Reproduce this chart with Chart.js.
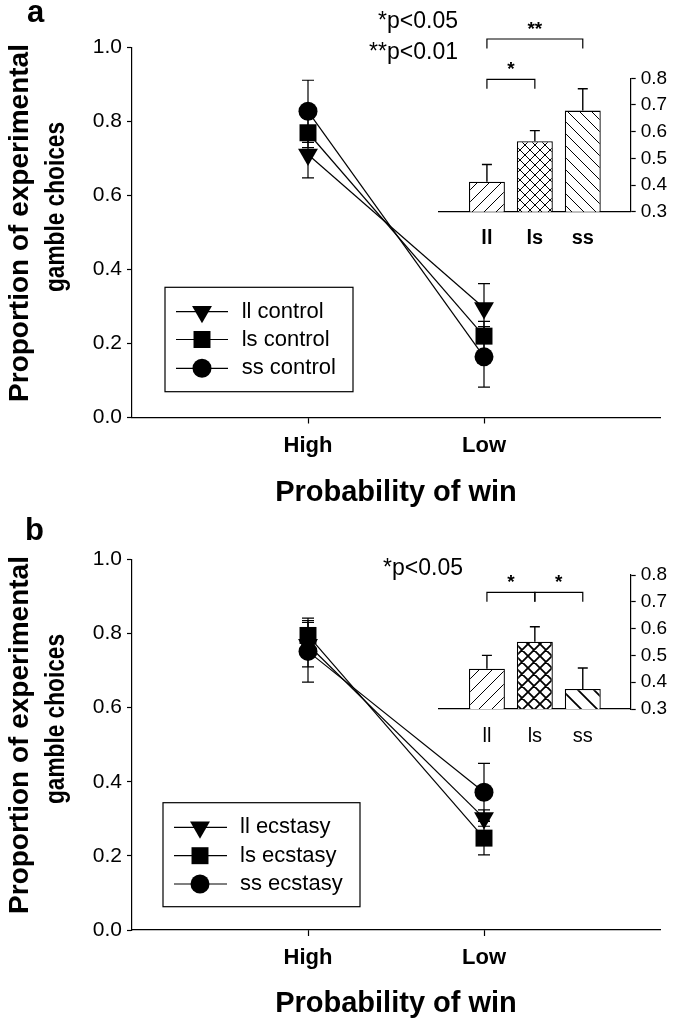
<!DOCTYPE html>
<html><head><meta charset="utf-8">
<script src="https://cdn.jsdelivr.net/npm/chart.js@4/dist/chart.umd.min.js"></script>
<style>
html,body{margin:0;padding:0;background:#fff;}
#wrap{position:relative;width:674px;height:1024px;overflow:hidden;background:#fff;}
canvas{position:absolute;left:0;}
</style></head><body>
<div id="wrap">
<canvas id="mainA" width="674" height="512" style="top:0"></canvas>
<canvas id="insetA" width="674" height="512" style="top:0"></canvas>
<canvas id="mainB" width="674" height="512" style="top:512px"></canvas>
<canvas id="insetB" width="674" height="512" style="top:512px"></canvas>
</div>
<script>
// ---------- DATA ----------
const probCategories = ['High', 'Low'];
const genotypes = ['ll', 'ls', 'ss'];
const yTitleLines = ['Proportion of experimental', 'gamble choices'];
const xTitle = 'Probability of win';
const panelLetters = ['a', 'b'];

const controlLabels = ['ll control', 'ls control', 'ss control'];
const llControl = [0.711, 0.296];
const llControlErr = [0.063, 0.066];
const lsControl = [0.770, 0.220];
const lsControlErr = [0.040, 0.040];
const ssControl = [0.828, 0.164];
const ssControlErr = [0.084, 0.082];

const ecstasyLabels = ['ll ecstasy', 'ls ecstasy', 'ss ecstasy'];
const llEcstasy = [0.770, 0.302];
const llEcstasyErr = [0.060, 0.022];
const lsEcstasy = [0.795, 0.248];
const lsEcstasyErr = [0.047, 0.045];
const ssEcstasy = [0.752, 0.372];
const ssEcstasyErr = [0.083, 0.078];

const controlGenotypeMeans = [0.412, 0.564, 0.679];
const controlGenotypeErr = [0.065, 0.040, 0.082];
const ecstasyGenotypeMeans = [0.450, 0.551, 0.375];
const ecstasyGenotypeErr = [0.050, 0.056, 0.078];

const controlSignificance = [['ll', 'ls', '*'], ['ll', 'ss', '**']];
const ecstasySignificance = [['ll', 'ls', '*'], ['ls', 'ss', '*']];
const controlPNotes = ['*p<0.05', '**p<0.01'];
const ecstasyPNotes = ['*p<0.05'];

// ---------- HELPERS ----------
const FONT = "'Liberation Sans', Arial, Helvetica, sans-serif";
const pad = a => [null, ...a, null];

function drawMarker(ctx, style, r, rot, x, y) {
  ctx.fillStyle = '#000'; ctx.strokeStyle = '#000';
  if (Chart.helpers && Chart.helpers.drawPoint) {
    Chart.helpers.drawPoint(ctx, {pointStyle: style, radius: r, rotation: rot, borderWidth: 0}, x, y);
    return;
  }
  ctx.beginPath();
  if (style === 'circle') ctx.arc(x, y, r, 0, Math.PI * 2);
  else if (style === 'rect') { const s = r * Math.SQRT1_2; ctx.rect(x - s, y - s, 2 * s, 2 * s); }
  else { const h = r; ctx.moveTo(x, y + h); ctx.lineTo(x - h * 0.866, y - h / 2); ctx.lineTo(x + h * 0.866, y - h / 2); ctx.closePath(); }
  ctx.fill();
}

function errorPlugin(capHalf, upOnly) {
  return {
    id: 'errbars',
    beforeDatasetsDraw(chart) {
      if (upOnly) return;
      const ctx = chart.ctx, ys = chart.scales.y;
      ctx.save(); ctx.strokeStyle = '#000'; ctx.lineWidth = 1.2;
      chart.data.datasets.forEach((ds, di) => {
        const meta = chart.getDatasetMeta(di);
        (ds.errorBars || []).forEach((e, i) => {
          const v = ds.data[i];
          if (e == null || v == null) return;
          const x = meta.data[i].x;
          const top = ys.getPixelForValue(v + e);
          const bot = ys.getPixelForValue(v - e);
          ctx.beginPath();
          ctx.moveTo(x, top); ctx.lineTo(x, bot);
          ctx.moveTo(x - capHalf, top); ctx.lineTo(x + capHalf, top);
          ctx.moveTo(x - capHalf, bot); ctx.lineTo(x + capHalf, bot);
          ctx.stroke();
        });
      });
      ctx.restore();
    },
    afterDatasetsDraw(chart) {
      if (!upOnly) return;
      const ctx = chart.ctx, ys = chart.scales.y;
      ctx.save(); ctx.strokeStyle = '#000'; ctx.lineWidth = 1.4;
      chart.data.datasets.forEach((ds, di) => {
        const meta = chart.getDatasetMeta(di);
        (ds.errorBars || []).forEach((e, i) => {
          const v = ds.data[i];
          if (e == null || v == null) return;
          const x = meta.data[i].x;
          const top = ys.getPixelForValue(v + e);
          ctx.beginPath();
          ctx.moveTo(x, top); ctx.lineTo(x, meta.data[i].y);
          ctx.moveTo(x - capHalf, top); ctx.lineTo(x + capHalf, top);
          ctx.stroke();
        });
      });
      ctx.restore();
    }
  };
}

function legendPlugin(cfg) {
  return {
    id: 'legendBox',
    afterDraw(chart) {
      const ctx = chart.ctx;
      ctx.save();
      ctx.strokeStyle = '#000'; ctx.lineWidth = 1.2;
      ctx.strokeRect(cfg.box[0], cfg.box[1], cfg.box[2] - cfg.box[0], cfg.box[3] - cfg.box[1]);
      chart.data.datasets.forEach((ds, i) => {
        const y = cfg.rows[i];
        ctx.strokeStyle = '#000'; ctx.lineWidth = 1.2;
        ctx.beginPath(); ctx.moveTo(cfg.lineX[0], y); ctx.lineTo(cfg.lineX[1], y); ctx.stroke();
        drawMarker(ctx, ds.pointStyle, ds.pointRadius, ds.pointRotation, cfg.markerX, y);
        ctx.fillStyle = '#000'; ctx.font = cfg.font;
        ctx.textAlign = 'left'; ctx.textBaseline = 'middle';
        ctx.fillText(ds.label, cfg.textX, y);
      });
      ctx.restore();
    }
  };
}

function textPlugin(items) {
  return {
    id: 'texts',
    afterDraw(chart) {
      const ctx = chart.ctx;
      items.forEach(t => {
        ctx.save();
        ctx.fillStyle = '#000';
        ctx.font = t.font;
        ctx.textAlign = t.align || 'left';
        ctx.textBaseline = t.baseline || 'alphabetic';
        ctx.translate(t.x, t.y);
        if (t.rot) ctx.rotate(t.rot);
        if (t.sx) ctx.scale(t.sx, 1);
        ctx.fillText(t.text, 0, 0);
        ctx.restore();
      });
    }
  };
}

function bracketPlugin(sig, levelsY, starFont) {
  return {
    id: 'brackets',
    afterDraw(chart) {
      const ctx = chart.ctx, xs = chart.scales.x;
      const labels = chart.data.labels;
      ctx.save();
      ctx.strokeStyle = '#000'; ctx.lineWidth = 1.2; ctx.fillStyle = '#000';
      sig.forEach((s, k) => {
        const x1 = xs.getPixelForValue(labels.indexOf(s[0]));
        const x2 = xs.getPixelForValue(labels.indexOf(s[1]));
        const y = levelsY[k];
        ctx.beginPath();
        ctx.moveTo(x1, y + 9.4); ctx.lineTo(x1, y); ctx.lineTo(x2, y); ctx.lineTo(x2, y + 9.4);
        ctx.stroke();
        ctx.font = starFont; ctx.textAlign = 'center'; ctx.textBaseline = 'alphabetic';
        ctx.fillText(s[2], (x1 + x2) / 2, y - 4.5);
      });
      ctx.restore();
    }
  };
}

function hatch(kind, s, lw) {
  const c = document.createElement('canvas');
  c.width = s; c.height = s;
  const g = c.getContext('2d');
  g.fillStyle = '#fff'; g.fillRect(0, 0, s, s);
  g.strokeStyle = '#000'; g.lineWidth = lw;
  g.beginPath();
  if (kind === 'fwd' || kind === 'cross') {
    g.moveTo(-2, s + 2); g.lineTo(s + 2, -2);
    g.moveTo(-2, 2); g.lineTo(2, -2);
    g.moveTo(s - 2, s + 2); g.lineTo(s + 2, s - 2);
  }
  if (kind === 'back' || kind === 'cross') {
    g.moveTo(-2, -2); g.lineTo(s + 2, s + 2);
    g.moveTo(-2, s - 2); g.lineTo(2, s + 2);
    g.moveTo(s - 2, -2); g.lineTo(s + 2, 2);
  }
  g.stroke();
  return g.createPattern(c, 'repeat');
}

// ---------- MAIN CHART ----------
function mainChart(id, series, o) {
  const labels = ['', ...probCategories, ''];
  const cfg = {
    type: 'line',
    data: {
      labels,
      datasets: series.map(s => ({
        label: s.label, data: pad(s.values), errorBars: pad(s.err),
        borderColor: '#000', borderWidth: 1.2, backgroundColor: '#000',
        pointStyle: s.style, pointRadius: s.r, pointHoverRadius: s.r, pointRotation: s.rot,
        pointBackgroundColor: '#000', pointBorderColor: '#000', pointBorderWidth: 0,
        fill: false, tension: 0, spanGaps: false, clip: false
      }))
    },
    options: {
      responsive: false, animation: false, devicePixelRatio: 1, events: [],
      layout: {padding: {left: 0, right: 14, top: o.top, bottom: 0}},
      plugins: {legend: {display: false}, tooltip: {enabled: false}},
      scales: {
        x: {
          type: 'category', offset: false,
          grid: {display: true, drawOnChartArea: false, drawTicks: true, tickLength: 6, tickWidth: 1.2,
                 tickColor: c => (c.index === 1 || c.index === 2) ? '#000' : 'rgba(0,0,0,0)'},
          border: {display: true, color: '#000', width: 1.2},
          ticks: {color: '#000', font: {family: FONT, size: 22, weight: 'bold'}, padding: 9, autoSkip: false, maxRotation: 0},
          afterFit: s => { s.height = o.xh; }
        },
        y: {
          min: 0, max: 1,
          grid: {display: true, drawOnChartArea: false, tickLength: 5, tickWidth: 1.2, tickColor: '#000'},
          border: {display: true, color: '#000', width: 1.2},
          ticks: {stepSize: 0.2, color: '#000', font: {family: FONT, size: 21}, padding: 5, callback: v => Number(v).toFixed(1)},
          afterFit: s => { s.width = 132; }
        }
      }
    },
    plugins: [
      errorPlugin(6, false),
      legendPlugin(o.legend),
      textPlugin([
        {text: o.letter, x: o.letterX, y: o.letterY, font: `bold 31px ${FONT}`},
        {text: yTitleLines[0], x: 20, y: o.yt1, font: `bold 28px ${FONT}`, align: 'center', baseline: 'middle', rot: -Math.PI / 2},
        {text: yTitleLines[1], x: 57, y: o.yt2, font: `bold 27px ${FONT}`, align: 'center', baseline: 'middle', rot: -Math.PI / 2, sx: 0.84},
        {text: xTitle, x: 396, y: o.xtY, font: `bold 29px ${FONT}`, align: 'center'}
      ])
    ]
  };
  return new Chart(document.getElementById(id), cfg);
}

// ---------- INSET CHART ----------
function insetChart(id, means, errs, o) {
  const labels = ['', ...genotypes, ''];
  const cfg = {
    type: 'bar',
    data: {
      labels,
      datasets: [{
        data: pad(means), errorBars: pad(errs),
        backgroundColor: ['rgba(0,0,0,0)', ...o.patterns, 'rgba(0,0,0,0)'],
        borderColor: '#000', borderWidth: 1.3, borderSkipped: 'start',
        categoryPercentage: 1, barPercentage: 0.75
      }]
    },
    options: {
      responsive: false, animation: false, devicePixelRatio: 1, events: [],
      layout: {padding: {left: 439, right: 0, top: o.top, bottom: 512 - o.bottom - 40}},
      plugins: {legend: {display: false}, tooltip: {enabled: false}},
      scales: {
        x: {
          type: 'category', offset: false,
          grid: {display: false, offset: false, drawTicks: false},
          border: {display: true, color: '#000', width: 1.2},
          ticks: {color: '#000', font: {family: FONT, size: 20, weight: o.labelWeight}, padding: 15, autoSkip: false, maxRotation: 0},
          afterFit: s => { s.height = 40; }
        },
        y: {
          position: 'right', min: 0.3, max: 0.8,
          grid: {display: true, drawOnChartArea: false, tickLength: 5, tickWidth: 1.2, tickColor: '#000'},
          border: {display: true, color: '#000', width: 1.2},
          ticks: {stepSize: 0.1, color: '#000', font: {family: FONT, size: 19}, padding: 5, callback: v => Number(v).toFixed(1)},
          afterFit: s => { s.width = 43.3; }
        }
      }
    },
    plugins: [
      errorPlugin(5, true),
      bracketPlugin(o.sig, o.levels, `bold 19px ${FONT}`),
      textPlugin(o.notes.map((t, i) => ({text: t, x: o.noteX, y: o.noteY[i], font: `23px ${FONT}`, align: 'right'})))
    ]
  };
  return new Chart(document.getElementById(id), cfg);
}

mainChart('mainA', [
  {label: controlLabels[0], values: llControl, err: llControlErr, style: 'triangle', r: 11.5, rot: 180},
  {label: controlLabels[1], values: lsControl, err: lsControlErr, style: 'rect', r: 12, rot: 0},
  {label: controlLabels[2], values: ssControl, err: ssControlErr, style: 'circle', r: 9.5, rot: 0}
], {top: 47.7, xh: 94.5, letter: panelLetters[0], letterX: 27, letterY: 22, yt1: 223, yt2: 207, xtY: 501,
    legend: {box: [165, 287.3, 353, 391.7], rows: [311.7, 339.5, 368.3], lineX: [176, 228], markerX: 202, textX: 241.7, font: `22px ${FONT}`}});

insetChart('insetA', controlGenotypeMeans, controlGenotypeErr, {
  top: 78.3, bottom: 211.7, labelWeight: 'bold',
  patterns: [hatch('fwd', 12, 1), hatch('cross', 10, 1), hatch('back', 12, 1)],
  sig: controlSignificance, levels: [79.3, 39],
  notes: controlPNotes, noteX: 458, noteY: [27.5, 58.5]
});

mainChart('mainB', [
  {label: ecstasyLabels[0], values: llEcstasy, err: llEcstasyErr, style: 'triangle', r: 11.5, rot: 180},
  {label: ecstasyLabels[1], values: lsEcstasy, err: lsEcstasyErr, style: 'rect', r: 12, rot: 0},
  {label: ecstasyLabels[2], values: ssEcstasy, err: ssEcstasyErr, style: 'circle', r: 9.5, rot: 0}
], {top: 47.5, xh: 94, letter: panelLetters[1], letterX: 25, letterY: 28, yt1: 223, yt2: 207, xtY: 500,
    legend: {box: [163, 290.7, 360, 394.7], rows: [315.3, 343.7, 372], lineX: [174, 227], markerX: 200, textX: 240, font: `22px ${FONT}`}});

insetChart('insetB', ecstasyGenotypeMeans, ecstasyGenotypeErr, {
  top: 63, bottom: 197, labelWeight: 'normal',
  patterns: [hatch('fwd', 13, 1), hatch('cross', 12, 1.8), hatch('back', 16, 1.8)],
  sig: ecstasySignificance, levels: [80.3, 80.3],
  notes: ecstasyPNotes, noteX: 463, noteY: [63]
});
</script>
</body></html>
